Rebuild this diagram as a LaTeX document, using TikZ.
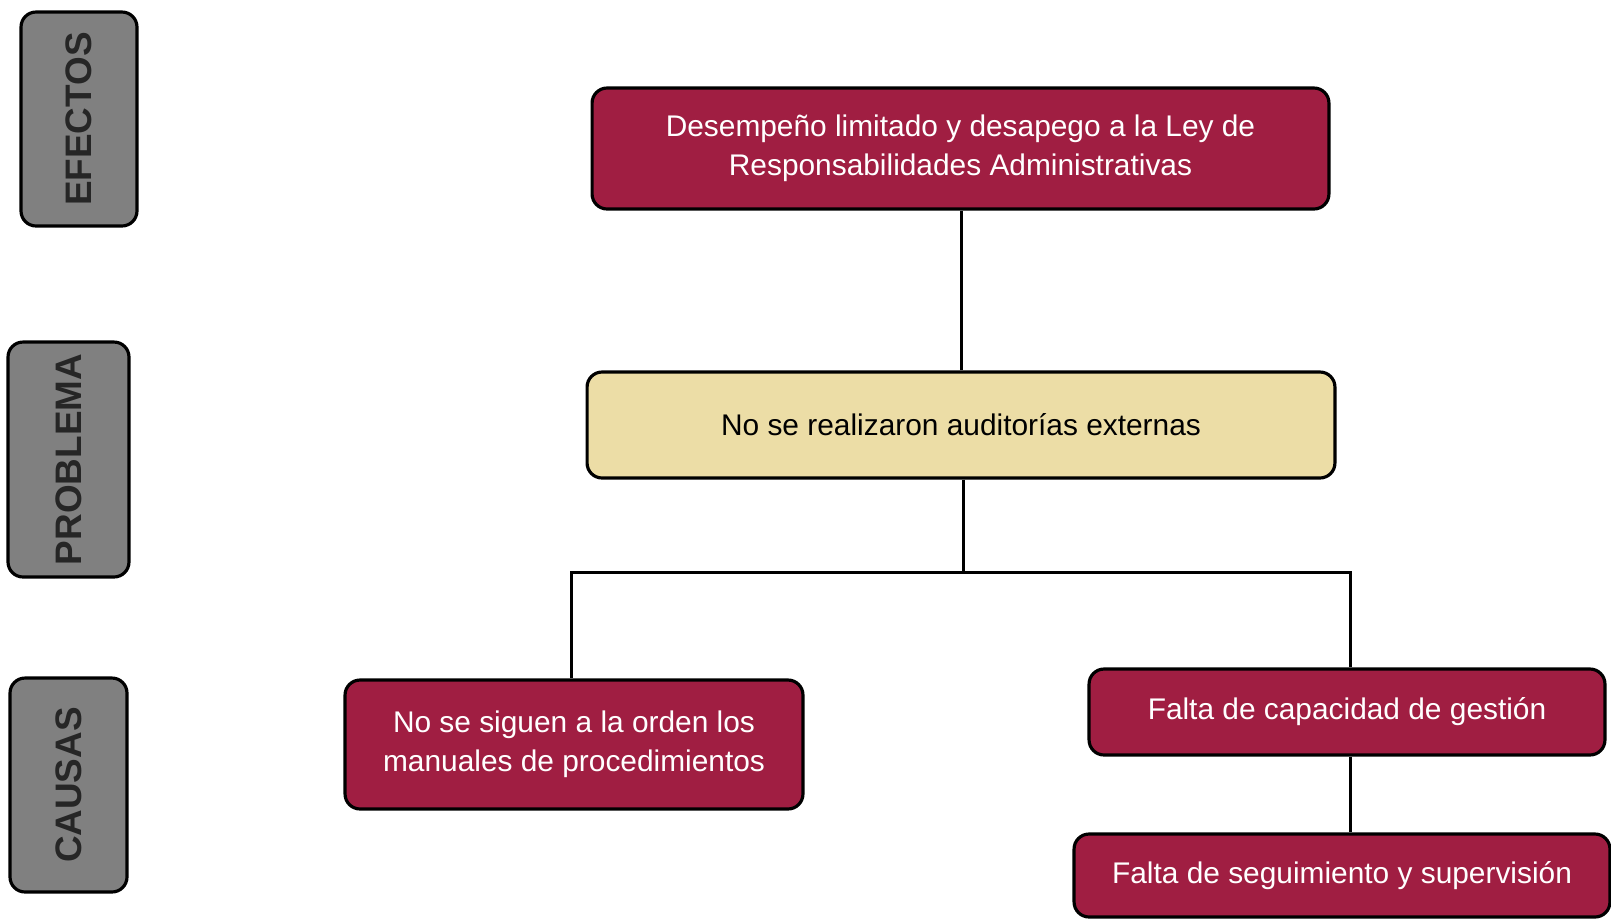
\documentclass[tikz,border=0pt]{standalone}
\usepackage{fontspec}
\setmainfont{Liberation Sans}
\setsansfont{Liberation Sans}
\definecolor{granate}{RGB}{160,30,66}
\definecolor{arena}{RGB}{236,221,166}
\definecolor{gris}{RGB}{128,128,128}
\begin{document}
\begin{tikzpicture}[x=0.02cm,y=-0.02cm,font=\sffamily]

        % Stili dei riquadri
        \tikzset{caja/.style={draw=black, line width=1.8pt, rounded corners=0.3cm, fill=granate, text=white, align=center, font=\fontsize{17}{22}\selectfont\sffamily},
                 lateral/.style={draw=black, line width=1.8pt, rounded corners=0.3cm, fill=gris, text=black!85, rotate=90, font=\fontsize{21}{24}\selectfont\sffamily\bfseries},
                 enlace/.style={line width=1.7pt}}

        % Area totale dell'immagine (1611 x 921)
        \useasboundingbox (0,0) rectangle (1611,921);

        % Etichette laterali
        \node[lateral, minimum width=4.28cm, minimum height=2.32cm] (efectos) at (79,119) {EFECTOS};
        \node[lateral, minimum width=4.7cm, minimum height=2.42cm] (problema) at (68.5,459.5) {PROBLEMA};
        \node[lateral, minimum width=4.28cm, minimum height=2.34cm] (causas) at (68.5,785) {CAUSAS};

        % Effetto
        \node[caja, minimum width=14.74cm, minimum height=2.42cm] (efecto) at (960.5,148.5)
            {Desempeño limitado y desapego a la Ley de\\Responsabilidades Administrativas};

        % Problema centrale
        \node[caja, fill=arena, text=black, minimum width=14.96cm, minimum height=2.12cm] (prob) at (961,425)
            {No se realizaron auditorías externas};

        % Cause
        \node[caja, minimum width=9.16cm, minimum height=2.58cm] (manuales) at (574,744.5)
            {No se siguen a la orden los\\manuales de procedimientos};
        \node[caja, minimum width=10.32cm, minimum height=1.72cm] (gestion) at (1347,712)
            {Falta de capacidad de gestión};
        \node[caja, minimum width=10.72cm, minimum height=1.66cm] (seguimiento) at (1342,875.5)
            {Falta de seguimiento y supervisión};

        % Punto di diramazione
        \coordinate (rama) at (963,572);

        % Collegamenti
        \draw[enlace] (efecto.south -| 961,0) -- (prob.north -| 961,0);
        \draw[enlace] (prob.south -| rama) -- (rama);
        \draw[enlace] (rama) -| (manuales.north -| 571,0);
        \draw[enlace] (rama) -| (gestion.north -| 1350,0);
        \draw[enlace] (gestion.south -| 1350,0) -- (seguimiento.north -| 1350,0);

    \end{tikzpicture}
\end{document}
